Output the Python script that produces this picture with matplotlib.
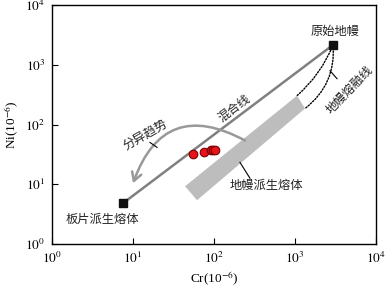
import matplotlib
matplotlib.use("Agg")
import matplotlib.pyplot as plt
from matplotlib.patches import Polygon

plt.rcParams["font.family"] = ["Liberation Serif", "Noto Sans CJK SC"]
plt.rcParams["mathtext.fontset"] = "stix"

# end members (Cr, Ni in ppm)
slab_melt = (7.5, 4.8)
primitive_mantle = (2950, 2150)

# samples
cr_samples = [54.6, 75.3, 91.8, 98.0, 103.8]
ni_samples = [32.5, 34.5, 37.8, 38.0, 36.9]

# mantle-derived melt field (parallelogram corners)
band_cr = [43.9, 1059, 1328, 61.7]
band_ni = [9.26, 304, 185, 5.41]

ticks = [1, 10, 100, 1000, 10000]
tick_labels = [r"$10^{0}$", r"$10^{1}$", r"$10^{2}$", r"$10^{3}$", r"$10^{4}$"]

fig = plt.figure(figsize=(3.89, 2.89), dpi=100)
ax = fig.add_axes([0.1337, 0.1557, 0.8329, 0.827])
ax.set_xscale("log")
ax.set_yscale("log")
ax.set_xlim(1, 1e4)
ax.set_ylim(1, 1e4)

ax.add_patch(Polygon(list(zip(band_cr, band_ni)), closed=True,
                     facecolor="#bdbdbd", edgecolor="none", zorder=1))

# mixing line
ax.plot([slab_melt[0], primitive_mantle[0]], [slab_melt[1], primitive_mantle[1]],
        color="#808080", lw=1.8, zorder=2)

# mantle melting curves
for corner, rad in [((band_cr[1], band_ni[1]), -0.12), ((band_cr[2], band_ni[2]), -0.27)]:
    ax.annotate("", xy=corner, xytext=primitive_mantle,
                arrowprops=dict(arrowstyle="-", linestyle=(0, (1, 1.2)), lw=1.0,
                                color="black", shrinkA=0, shrinkB=0,
                                connectionstyle=f"arc3,rad={rad}"), zorder=2)

# fractionation arrow
ax.annotate("", xy=(10, 10.4), xytext=(241, 54),
            arrowprops=dict(arrowstyle="->,head_length=0.6,head_width=0.35",
                            lw=1.8, color="#999999", shrinkA=0, shrinkB=0,
                            connectionstyle="arc3,rad=0.58"), zorder=2)

ax.plot([slab_melt[0], primitive_mantle[0]], [slab_melt[1], primitive_mantle[1]],
        ls="none", marker="s", ms=6, color="#111111", zorder=4)
ax.scatter(cr_samples, ni_samples, s=38, facecolor="#e8141c", edgecolor="#7a0000",
           linewidth=0.8, zorder=5)

# leader lines
ax.plot([16.2, 19.8], [50.1, 41.4], color="black", lw=0.8)
ax.plot([2704, 3303], [794, 584], color="black", lw=0.8)
ax.plot([209, 278], [23.3, 12.6], color="black", lw=0.8)

fs = 8.8
ax.text(3119, 3548, "原始地幔", ha="center", va="center", fontsize=fs, color="#222222")
ax.text(4.14, 2.51, "板片派生熔体", ha="center", va="center", fontsize=fs, color="#222222")
ax.text(438, 9.26, "地幔派生熔体", ha="center", va="center", fontsize=fs, color="#222222")
ax.text(182, 185, "混合线", ha="center", va="center", fontsize=fs, rotation=37, color="#222222")
ax.text(14.1, 65.6, "分异趋势", ha="center", va="center", fontsize=fs, rotation=30, color="#222222")
ax.text(4775, 369, "地幔熔融线", ha="center", va="center", fontsize=fs, rotation=46, color="#222222")

ax.set_xticks(ticks)
ax.set_xticklabels(tick_labels)
ax.set_yticks(ticks)
ax.set_yticklabels(tick_labels)
ax.minorticks_off()
ax.tick_params(direction="in", length=4, width=0.8, labelsize=9.5, pad=5)
for sp in ax.spines.values():
    sp.set_linewidth(1.0)

ax.set_xlabel(r"Cr(10$^{-6}$)", fontsize=9.5, labelpad=3)
ax.set_ylabel(r"Ni(10$^{-6}$)", fontsize=9.5, labelpad=3)

fig.savefig("out.png", dpi=100)
